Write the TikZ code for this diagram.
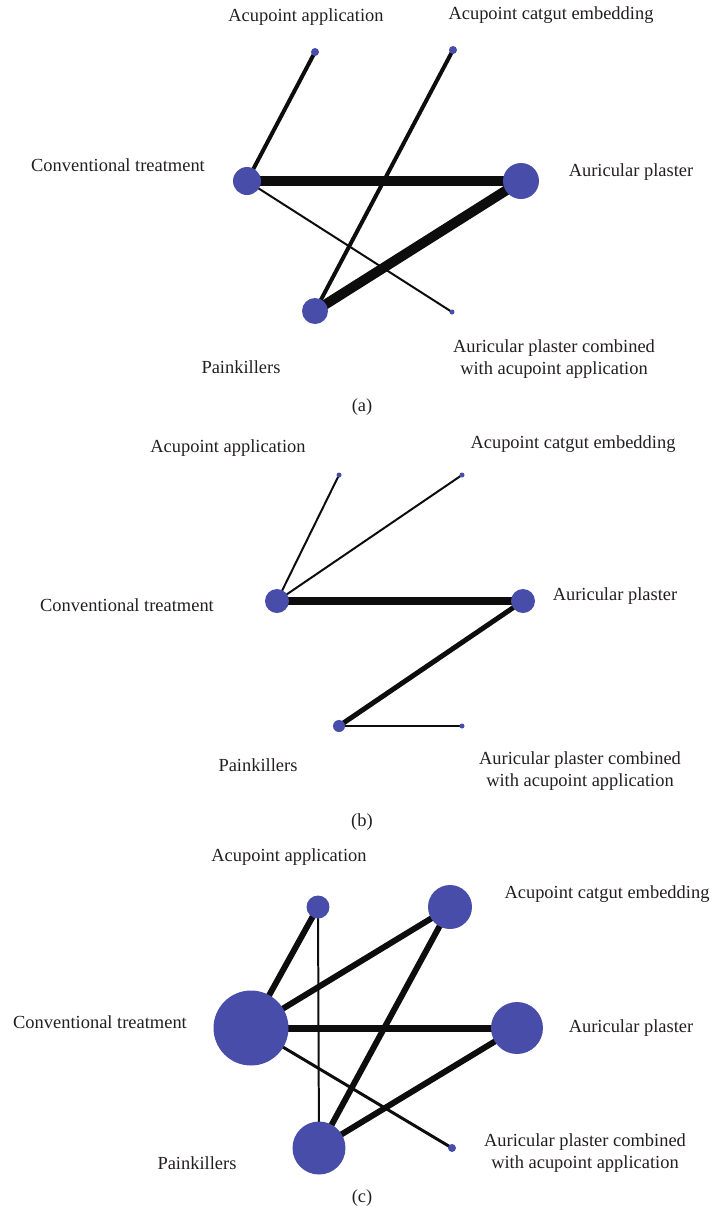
\documentclass[tikz,border=0pt]{standalone}
\usepackage{fontspec}
\setmainfont{Liberation Serif}
\usetikzlibrary{backgrounds}
\definecolor{nodeblue}{RGB}{71,77,168}
\definecolor{labelgray}{RGB}{35,31,32}
\tikzset{
  trt/.style={circle, fill=nodeblue, inner sep=0pt, minimum size=#1*0.4mm},
  lab/.style={text=labelgray, inner sep=0pt, align=center,
    font=\fontsize{10.5}{12.8}\selectfont},
  w/.style={line width=#1*0.567pt, draw=black!95}
}
\begin{document}
\begin{tikzpicture}[x=0.02cm, y=-0.02cm]
  \useasboundingbox (0,0) rectangle (713,1215);
  % (a)
  \draw
    (247,181) node[trt=14] (a0){}
    (315,52) node[trt=4] (a1){}
    (453,50) node[trt=4] (a2){}
    (521,181) node[trt=18] (a3){}
    (315,311) node[trt=13] (a4){}
    (452,312) node[trt=2.5] (a5){};
  \node[lab] (la0) at (118,165) {Conventional treatment};
  \node[lab] (la1) at (306,17) {Acupoint application};
  \node[lab] (la2) at (551,15) {Acupoint catgut embedding};
  \node[lab] (la3) at (631,172) {Auricular plaster};
  \node[lab] (la4) at (241,367) {Painkillers};
  \node[lab] (la5) at (554,359) {Auricular plaster combined\\with acupoint application};
  \node[lab] (capa) at (362,407) {(a)};
  \begin{scope}[on background layer]
    \draw[w=4] (a0.center) to (a1.center);
    \draw[w=9.5] (a0.center) to (a3.center);
    \draw[w=2] (a0.center) to (a5.center);
    \draw[w=10] (a3.center) to (a4.center);
    \draw[w=4] (a2.center) to (a4.center);
  \end{scope}
  % (b)
  \draw
    (277,601) node[trt=12] (b0){}
    (339,475) node[trt=2.5] (b1){}
    (462,475) node[trt=2.5] (b2){}
    (523,601) node[trt=12] (b3){}
    (339,726) node[trt=6] (b4){}
    (462,726) node[trt=2.5] (b5){};
  \node[lab] (lb0) at (127,605) {Conventional treatment};
  \node[lab] (lb1) at (228,448) {Acupoint application};
  \node[lab] (lb2) at (573,444) {Acupoint catgut embedding};
  \node[lab] (lb3) at (615,596) {Auricular plaster};
  \node[lab] (lb4) at (258,765) {Painkillers};
  \node[lab] (lb5) at (580,771) {Auricular plaster combined\\with acupoint application};
  \node[lab] (capb) at (362,822) {(b)};
  \begin{scope}[on background layer]
    \draw[w=2] (b0.center) to (b1.center);
    \draw[w=2] (b0.center) to (b2.center);
    \draw[w=9] (b0.center) to (b3.center);
    \draw[w=5] (b3.center) to (b4.center);
    \draw[w=2] (b4.center) to (b5.center);
  \end{scope}
  % (c)
  \draw
    (251,1028) node[trt=37.5] (c0){}
    (318,907) node[trt=11.5] (c1){}
    (450,907) node[trt=22] (c2){}
    (517,1028) node[trt=26] (c3){}
    (319,1148) node[trt=26.5] (c4){}
    (452,1148) node[trt=4] (c5){};
  \node[lab] (lc0) at (100,1022) {Conventional treatment};
  \node[lab] (lc1) at (289,857) {Acupoint application};
  \node[lab] (lc2) at (607,894) {Acupoint catgut embedding};
  \node[lab] (lc3) at (631,1028) {Auricular plaster};
  \node[lab] (lc4) at (197,1163) {Painkillers};
  \node[lab] (lc5) at (585,1153) {Auricular plaster combined\\with acupoint application};
  \node[lab] (capc) at (362,1198) {(c)};
  \begin{scope}[on background layer]
    \draw[w=6] (c0.center) to (c1.center);
    \draw[w=6] (c0.center) to (c2.center);
    \draw[w=7] (c0.center) to (c3.center);
    \draw[w=3] (c0.center) to (c5.center);
    \draw[w=2] (c1.center) to (c4.center);
    \draw[w=6] (c2.center) to (c4.center);
    \draw[w=6] (c3.center) to (c4.center);
  \end{scope}
\end{tikzpicture}
\end{document}
